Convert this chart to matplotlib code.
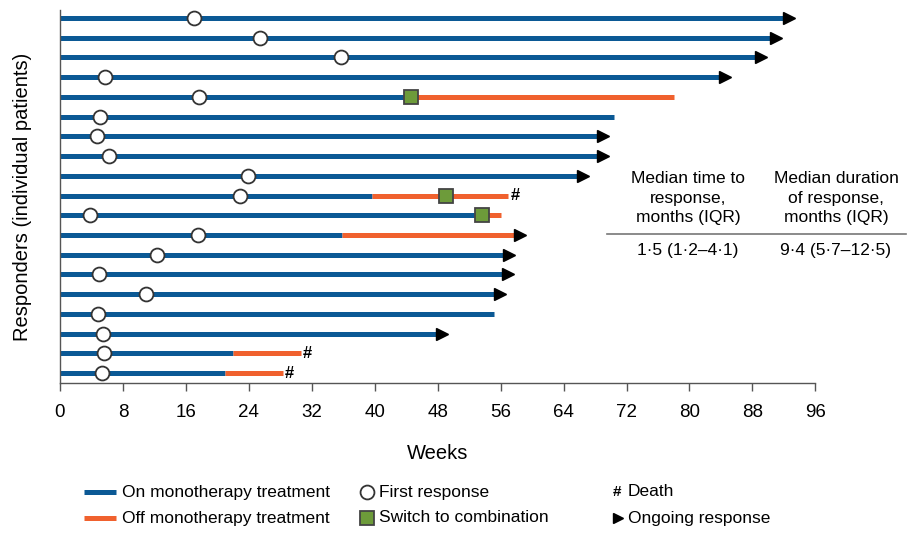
import matplotlib.pyplot as plt
from matplotlib.lines import Line2D

plt.rcParams['font.family'] = ['Liberation Sans', 'DejaVu Sans']

# one entry per patient, top row first (weeks)
first_resp = [17.1, 25.4, 35.7, 5.7, 17.7, 5.1, 4.7, 6.2, 23.9, 22.9,
              3.8, 17.5, 12.3, 5.0, 10.9, 4.8, 5.5, 5.6, 5.3]
on_end = [92.0, 90.3, 88.4, 83.8, 44.6, 70.4, 68.3, 68.3, 65.8, 39.7,
          53.6, 35.8, 56.4, 56.2, 55.2, 55.2, 47.9, 22.0, 21.0]
off_end = [None, None, None, None, 78.0, None, None, None, None, 57.0,
           56.0, 57.8, None, None, None, None, None, 30.6, 28.3]
switch = [None, None, None, None, 44.6, None, None, None, None, 49.0,
          53.6, None, None, None, None, None, None, None, None]
death = [0, 0, 0, 0, 0, 0, 0, 0, 0, 1, 0, 0, 0, 0, 0, 0, 0, 1, 1]
ongoing = [1, 1, 1, 1, 0, 0, 1, 1, 1, 0, 0, 1, 1, 1, 1, 0, 1, 0, 0]

blue = '#0b5995'
orange = '#f0612e'
green = '#6d9b3a'

fig = plt.figure(figsize=(9.08, 5.34), dpi=100)
ax = fig.add_axes([0.066, 0.283, 0.832, 0.698])

for i in range(len(first_resp)):
    y = i + 1
    ax.plot([0, on_end[i]], [y, y], color=blue, lw=3.6, solid_capstyle='butt', zorder=2)
    end = on_end[i]
    if off_end[i] is not None:
        ax.plot([on_end[i], off_end[i]], [y, y], color=orange, lw=3.6,
                solid_capstyle='butt', zorder=2)
        end = off_end[i]
    ax.plot(first_resp[i], y, 'o', ms=10, mfc='white', mec='#333333', mew=1.3, zorder=4)
    if switch[i] is not None:
        ax.plot(switch[i], y, 's', ms=9.5, mfc=green, mec='#444444', mew=1.3, zorder=4)
    if ongoing[i]:
        ax.plot(end + 0.7, y, '>', ms=9, color='black', zorder=3)
    if death[i]:
        ax.text(end + 0.3, y, '#', fontsize=12, fontweight='bold', ha='left', va='center')

ax.set_xlim(0, 96)
ax.set_ylim(19.5, 0.6)
ax.set_xticks(range(0, 97, 8))
ax.set_yticks([])
ax.tick_params(axis='x', direction='out', length=6, width=1, color='#555555',
               labelsize=13.5, pad=9)
for s in ['top', 'right']:
    ax.spines[s].set_visible(False)
for s in ['left', 'bottom']:
    ax.spines[s].set_color('#555555')
    ax.spines[s].set_linewidth(1)
ax.set_xlabel('Weeks', fontsize=14.5, labelpad=17)
ax.set_ylabel('Responders (individual patients)', fontsize=14.5, labelpad=20)

# summary table
fig.text(688 / 908, 1 - 198 / 534, 'Median time to\nresponse,\nmonths (IQR)',
         ha='center', va='center', fontsize=12.5, linespacing=1.4)
fig.text(836 / 908, 1 - 198 / 534, 'Median duration\nof response,\nmonths (IQR)',
         ha='center', va='center', fontsize=12.5, linespacing=1.4)
fig.add_artist(Line2D([607 / 908, 906 / 908], [1 - 234 / 534] * 2, color='#777777', lw=1.2))
fig.text(688 / 908, 1 - 250 / 534, '1·5 (1·2–4·1)', ha='center', va='center', fontsize=12.5)
fig.text(836 / 908, 1 - 250 / 534, '9·4 (5·7–12·5)', ha='center', va='center', fontsize=12.5)

# legend
lg = fig.add_axes([0, 0, 1, 1], zorder=-1)
lg.set_xlim(0, 908)
lg.set_ylim(534, 0)
lg.axis('off')
r1, r2 = 492, 518
lg.plot([84, 116], [r1, r1], color=blue, lw=3.6, solid_capstyle='butt')
lg.plot([84, 116], [r2, r2], color=orange, lw=3.6, solid_capstyle='butt')
lg.text(122, r1, 'On monotherapy treatment', va='center', fontsize=12.5)
lg.text(122, r2, 'Off monotherapy treatment', va='center', fontsize=12.5)
lg.plot(367, r1, 'o', ms=10, mfc='white', mec='#333333', mew=1.3)
lg.plot(367, r2, 's', ms=9.5, mfc=green, mec='#444444', mew=1.3)
lg.text(379, r1, 'First response', va='center', fontsize=12.5)
lg.text(379, r2, 'Switch to combination', va='center', fontsize=12.5)
lg.text(613, r1, '#', va='center', fontsize=11, fontweight='bold')
lg.plot(618, r2, '>', ms=7, color='black')
lg.text(628, r1, 'Death', va='center', fontsize=12.5)
lg.text(628, r2, 'Ongoing response', va='center', fontsize=12.5)

fig.savefig('out.png', dpi=100)
